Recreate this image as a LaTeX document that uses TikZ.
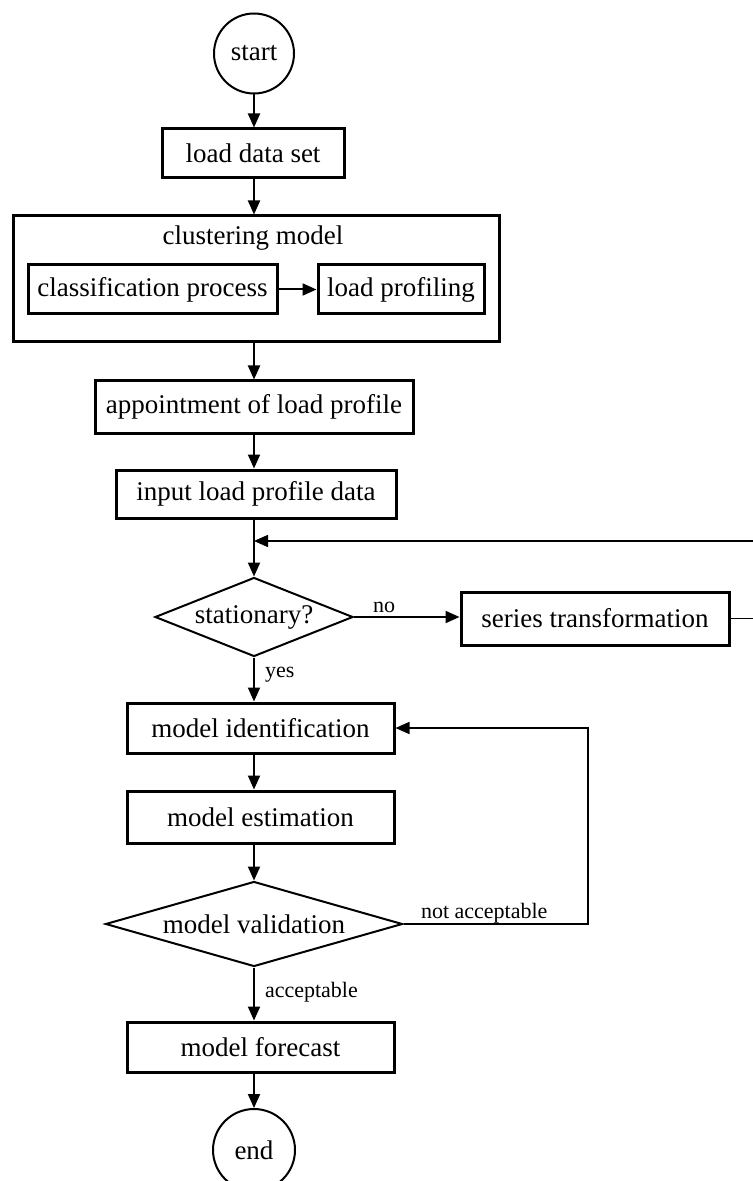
\documentclass[tikz,border=0pt]{standalone}
\usepackage{fontspec}
\setmainfont{Liberation Serif}
\usetikzlibrary{arrows.meta,shapes.geometric}

\begin{document}
\begin{tikzpicture}[->,
	>={Triangle[length=7pt,width=6pt]},
	x=0.5pt,y=-0.5pt,
	line width=1pt,
	font=\fontsize{13.5pt}{16pt}\selectfont,
	box/.style={rectangle,draw,line width=1.5pt,inner sep=0pt},
	term/.style={circle,draw,line width=1pt,inner sep=0pt},
	decide/.style={diamond,draw,line width=1pt,inner sep=0pt},
	lbl/.style={inner sep=0pt,font=\fontsize{11pt}{13pt}\selectfont},
	loop/.style={line width=0.8pt},]
	\useasboundingbox (0,0) rectangle (752,1181);
	\node [term,minimum size=40pt] (start) at (254,53.5) {start};
	\node [box,minimum width=91pt,minimum height=24.5pt] (load) at (253,153.5) {load data set};
	\node [box,minimum width=243pt,minimum height=63pt] (cluster) at (256,279) {};
	\node [inner sep=0pt,anchor=base] (title) at (253,245) {clustering model};
	\node [box,minimum width=124.5pt,minimum height=24.5pt] (classify) at (152.5,289.5) {classification process};
	\node [box,minimum width=83pt,minimum height=24.5pt] (profiling) at (401,289.5) {load profiling};
	\node [box,minimum width=159pt,minimum height=26pt] (appoint) at (254,407) {appointment of load profile};
	\node [box,minimum width=140pt,minimum height=24pt] (input) at (256,494) {input load profile data};
	\node [decide,aspect=2.5,minimum width=99pt,minimum height=39.5pt] (stat) at (254,617) {stationary?};
	\node [box,minimum width=134pt,minimum height=26.5pt] (series) at (595,618.5) {series transformation};
	\node [box,minimum width=133.5pt,minimum height=25pt] (modelid) at (260.5,728) {model identification};
	\node [box,minimum width=133.5pt,minimum height=26pt] (est) at (260.5,817) {model estimation};
	\node [decide,aspect=3.4,minimum width=148.5pt,minimum height=42.5pt] (valid) at (254,924) {model validation};
	\node [box,minimum width=133.5pt,minimum height=25pt] (forecast) at (260.5,1047) {model forecast};
	\node [term,minimum size=41pt] (stop) at (254,1150) {end};
	\node [lbl,anchor=base west] (no) at (372,612) {no};
	\node [lbl,anchor=base west] (yes) at (264,677) {yes};
	\node [lbl,anchor=base west] (notok) at (420,918) {not acceptable};
	\node [lbl,anchor=base west] (ok) at (264,997) {acceptable};
	\coordinate (junct) at (254,541);
	\coordinate (loopR) at (760,541);
	\coordinate (loopV) at (588,728);
	\draw (start) -- (load.north -| start);
	\draw (load.south -| start) -- (cluster.north -| start);
	\draw (classify) -- (profiling);
	\draw (cluster.south -| start) -- (appoint.north -| start);
	\draw (appoint.south -| start) -- (input.north -| start);
	\draw (input.south -| start) -- (stat);
	\draw (stat.east) -- (stat.east -| series.west);
	\draw [loop] (series.east) -| (loopR) -- (junct);
	\draw (stat.south) -- (modelid.north -| start);
	\draw (modelid.south -| start) -- (est.north -| start);
	\draw (est.south -| start) -- (valid);
	\draw [loop] (valid.east) -| (loopV) -- (modelid.east);
	\draw (valid.south) -- (forecast.north -| start);
	\draw (forecast.south -| start) -- (stop);
\end{tikzpicture}
\end{document}
